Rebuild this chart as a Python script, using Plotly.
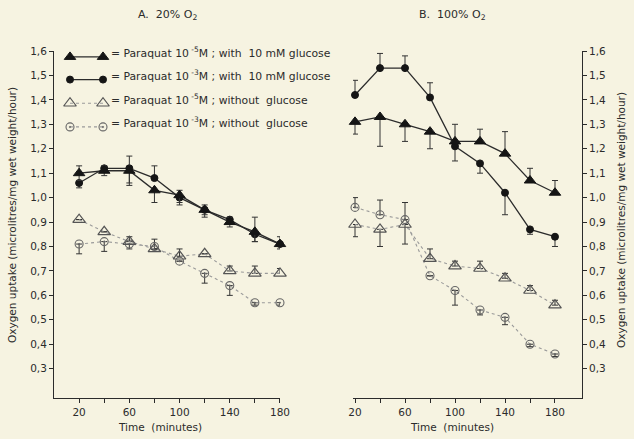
import plotly.graph_objects as go

# ---------------- data ----------------
time = [20, 40, 60, 80, 100, 120, 140, 160, 180]

# Panel A: 20% O2
a_tri_glu = [1.10, 1.11, 1.11, 1.03, 1.01, 0.95, 0.90, 0.86, 0.81]
a_tri_glu_plus = [0.03, 0.02, 0.06, 0.00, 0.02, 0.02, 0.02, 0.06, 0.03]
a_tri_glu_minus = [0.03, 0.02, 0.06, 0.05, 0.03, 0.02, 0.02, 0.04, 0.02]

a_circ_glu = [1.06, 1.12, 1.12, 1.08, 1.00, 0.95, 0.91, 0.85, 0.81]
a_circ_glu_plus = [0.00, 0.00, 0.00, 0.05, 0.00, 0.00, 0.00, 0.00, 0.00]
a_circ_glu_minus = [0.02, 0.00, 0.06, 0.00, 0.03, 0.03, 0.02, 0.03, 0.00]

a_tri_noglu = [0.91, 0.86, 0.82, 0.79, 0.76, 0.77, 0.70, 0.69, 0.69]
a_tri_noglu_plus = [0.00, 0.00, 0.02, 0.00, 0.03, 0.00, 0.02, 0.03, 0.02]
a_tri_noglu_minus = [0.00, 0.00, 0.00, 0.00, 0.00, 0.00, 0.00, 0.00, 0.00]

a_circ_noglu = [0.81, 0.82, 0.81, 0.80, 0.74, 0.69, 0.64, 0.57, 0.57]
a_circ_noglu_plus = [0.00, 0.00, 0.00, 0.03, 0.00, 0.00, 0.00, 0.00, 0.00]
a_circ_noglu_minus = [0.04, 0.04, 0.02, 0.01, 0.00, 0.04, 0.04, 0.01, 0.01]

# Panel B: 100% O2
b_tri_glu = [1.31, 1.33, 1.30, 1.27, 1.23, 1.23, 1.18, 1.07, 1.02]
b_tri_glu_plus = [0.00, 0.00, 0.00, 0.00, 0.07, 0.05, 0.09, 0.05, 0.05]
b_tri_glu_minus = [0.05, 0.12, 0.07, 0.07, 0.00, 0.00, 0.00, 0.00, 0.00]

b_circ_glu = [1.42, 1.53, 1.53, 1.41, 1.21, 1.14, 1.02, 0.87, 0.84]
b_circ_glu_plus = [0.06, 0.06, 0.05, 0.06, 0.00, 0.00, 0.00, 0.00, 0.00]
b_circ_glu_minus = [0.00, 0.00, 0.00, 0.00, 0.06, 0.04, 0.09, 0.02, 0.04]

b_tri_noglu = [0.89, 0.87, 0.89, 0.75, 0.72, 0.71, 0.67, 0.62, 0.56]
b_tri_noglu_plus = [0.00, 0.00, 0.00, 0.04, 0.02, 0.03, 0.02, 0.02, 0.02]
b_tri_noglu_minus = [0.05, 0.07, 0.08, 0.00, 0.00, 0.00, 0.00, 0.00, 0.00]

b_circ_noglu = [0.96, 0.93, 0.91, 0.68, 0.62, 0.54, 0.51, 0.40, 0.36]
b_circ_noglu_plus = [0.04, 0.06, 0.07, 0.00, 0.00, 0.00, 0.00, 0.00, 0.00]
b_circ_noglu_minus = [0.00, 0.00, 0.00, 0.00, 0.06, 0.02, 0.03, 0.01, 0.01]

y_ticks = [0.3, 0.4, 0.5, 0.6, 0.7, 0.8, 0.9, 1.0, 1.1, 1.2, 1.3, 1.4, 1.5, 1.6]
x_ticks = [20, 60, 100, 140, 180]
x_minor_ticks = [40, 80, 120, 160]

legend_labels = [
    "= Paraquat 10<sup> -5</sup>M ; with  10 mM glucose",
    "= Paraquat 10<sup> -3</sup>M ; with  10 mM glucose",
    "= Paraquat 10<sup> -5</sup>M ; without  glucose",
    "= Paraquat 10<sup> -3</sup>M ; without  glucose",
]

# ---------------- styles ----------------
BG = "#f6f3e1"
INK = "#2b2b2b"
FONT = "DejaVu Sans"
W, H = 634, 439
ML, MR, MT, MB = 54, 52, 51, 41
PW, PH = W - ML - MR, H - MT - MB


def px_x(p):
    return (p - ML) / PW


def px_y(p):
    return 1 - (p - MT) / PH


styles = [
    dict(symbol="triangle-up", size=10, color="#151515", line=dict(color="#151515", width=1),
         lcolor="#2b2b2b", lwidth=1.3, dash="solid"),
    dict(symbol="circle", size=7, color="#151515", line=dict(color="#151515", width=1),
         lcolor="#2b2b2b", lwidth=1.3, dash="solid"),
    dict(symbol="triangle-up-open", size=11, color="#555555", line=dict(color="#555555", width=1.2),
         lcolor="#9a9a9a", lwidth=1.1, dash="dot"),
    dict(symbol="circle-open-dot", size=8, color="#666666", line=dict(color="#666666", width=1.1),
         lcolor="#9a9a9a", lwidth=1.1, dash="dot"),
]

fig = go.Figure()


def add_series(y, plus, minus, st, xa, ya):
    fig.add_trace(go.Scatter(
        x=time, y=y, mode="lines+markers", xaxis=xa, yaxis=ya,
        line=dict(color=st["lcolor"], width=st["lwidth"], dash=st["dash"]),
        marker=dict(symbol=st["symbol"], size=st["size"], color=st["color"], line=st["line"]),
        error_y=dict(type="data", symmetric=False, array=plus, arrayminus=minus,
                     color="#333333", thickness=1, width=3, visible=True),
        cliponaxis=False, showlegend=False, hoverinfo="skip",
    ))


panelA = [(a_tri_glu, a_tri_glu_plus, a_tri_glu_minus),
          (a_circ_glu, a_circ_glu_plus, a_circ_glu_minus),
          (a_tri_noglu, a_tri_noglu_plus, a_tri_noglu_minus),
          (a_circ_noglu, a_circ_noglu_plus, a_circ_noglu_minus)]
panelB = [(b_tri_glu, b_tri_glu_plus, b_tri_glu_minus),
          (b_circ_glu, b_circ_glu_plus, b_circ_glu_minus),
          (b_tri_noglu, b_tri_noglu_plus, b_tri_noglu_minus),
          (b_circ_noglu, b_circ_noglu_plus, b_circ_noglu_minus)]

# draw dotted series first, solid ones on top
for i in [3, 2, 1, 0]:
    add_series(*panelA[i], styles[i], "x", "y")
    add_series(*panelB[i], styles[i], "x2", "y2")

# legend keys on a hidden full-width axis (pixel-like units)
leg_rows = [52, 75, 99, 123]
leg_x = [70, 103]
for i, st in enumerate(styles):
    fig.add_trace(go.Scatter(
        x=leg_x, y=[leg_rows[i], leg_rows[i]], mode="lines+markers", xaxis="x3", yaxis="y3",
        line=dict(color=st["lcolor"], width=st["lwidth"], dash=st["dash"]),
        marker=dict(symbol=st["symbol"], size=st["size"], color=st["color"], line=st["line"]),
        cliponaxis=False, showlegend=False, hoverinfo="skip",
    ))
    fig.add_annotation(x=px_x(109), y=px_y(leg_rows[i]), xref="paper", yref="paper",
                       text=legend_labels[i], showarrow=False, xanchor="left", yanchor="middle",
                       font=dict(size=10.8, color=INK, family=FONT))

axis_common = dict(showgrid=False, zeroline=False, showline=True, linecolor=INK, linewidth=1,
                   ticks="outside", ticklen=4, tickcolor=INK, tickwidth=1,
                   tickfont=dict(size=10.5, color=INK, family=FONT))
minor_x = dict(tickmode="array", tickvals=x_minor_ticks, ticks="outside", ticklen=4,
               tickcolor=INK, tickwidth=1, showgrid=False)

fig.update_layout(
    width=W, height=H,
    margin=dict(l=ML, r=MR, t=MT, b=MB),
    paper_bgcolor=BG, plot_bgcolor="rgba(0,0,0,0)",
    separators=",.",
    font=dict(family=FONT, color=INK),
    xaxis=dict(domain=[0, 0.428], range=[0, 180], tickvals=x_ticks, minor=minor_x,
               anchor="y", **axis_common),
    yaxis=dict(domain=[0, 1], range=[0.18, 1.6], tickvals=y_ticks, tickformat=".1f",
               anchor="x", side="left", **axis_common),
    xaxis2=dict(domain=[0.5663, 1], range=[18.4, 201.6], tickvals=x_ticks, minor=minor_x,
                anchor="y2", **axis_common),
    yaxis2=dict(domain=[0, 1], range=[0.18, 1.6], tickvals=y_ticks, tickformat=".1f",
                anchor="x2", side="right", **axis_common),
    xaxis3=dict(domain=[0, 1], range=[ML, W - MR], visible=False, anchor="y3"),
    yaxis3=dict(domain=[0, 1], range=[H - MB, MT - 5], visible=False, anchor="x3"),
)

title_font = dict(size=11, color=INK, family=FONT)
ann_font = dict(size=10.5, color=INK, family=FONT)
fig.add_annotation(x=px_x(167), y=px_y(15), xref="paper", yref="paper",
                   text="A.  20% O<sub>2</sub>", showarrow=False,
                   xanchor="center", yanchor="middle", font=title_font)
fig.add_annotation(x=px_x(452), y=px_y(15), xref="paper", yref="paper",
                   text="B.  100% O<sub>2</sub>", showarrow=False,
                   xanchor="center", yanchor="middle", font=title_font)
fig.add_annotation(x=px_x(160), y=px_y(427), xref="paper", yref="paper", text="Time  (minutes)",
                   showarrow=False, xanchor="center", yanchor="middle", font=ann_font)
fig.add_annotation(x=px_x(452), y=px_y(427), xref="paper", yref="paper", text="Time  (minutes)",
                   showarrow=False, xanchor="center", yanchor="middle", font=ann_font)
ylab = "Oxygen uptake (microlitres/mg wet weight/hour)"
fig.add_annotation(x=px_x(12), y=px_y(215), xref="paper", yref="paper", text=ylab, textangle=-90,
                   showarrow=False, xanchor="center", yanchor="middle", font=ann_font)
fig.add_annotation(x=px_x(621), y=px_y(220), xref="paper", yref="paper", text=ylab, textangle=-90,
                   showarrow=False, xanchor="center", yanchor="middle", font=ann_font)

fig.write_html(
    "out.html",
    config={"displayModeBar": False},
    post_script="document.body.style.margin='0';document.body.style.background='%s';" % BG,
)
